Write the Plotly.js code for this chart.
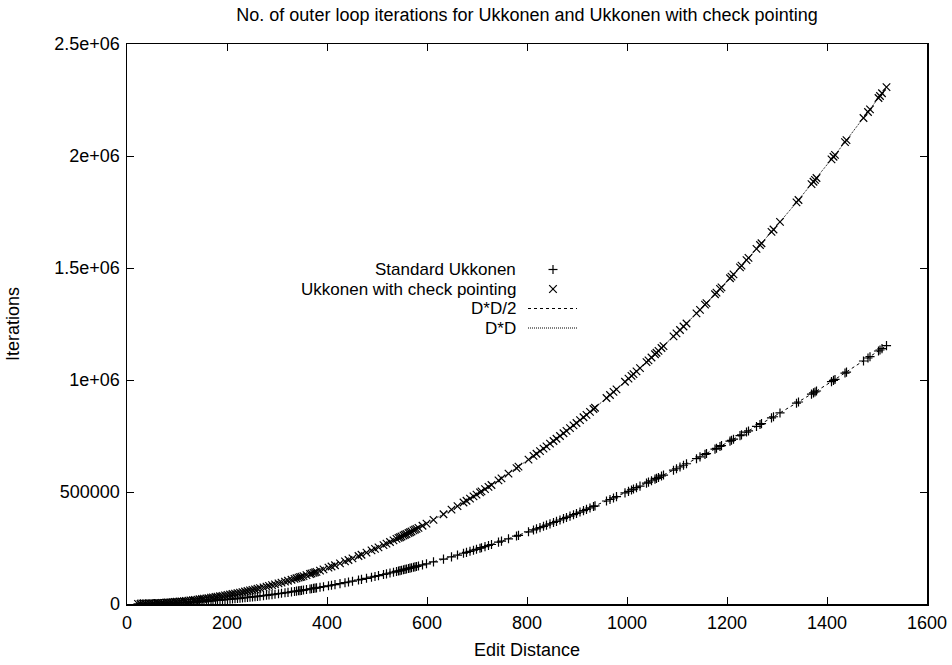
<!DOCTYPE html>
<html>
<head>
<meta charset="utf-8">
<script src="https://cdn.plot.ly/plotly-3.0.1.min.js"></script>
<style>html,body{margin:0;padding:0;background:#fff;}#chart{width:952px;height:665px;}</style>
</head>
<body>
<div id="chart"></div>
<script>
// Edit distances of the test cases
const editDistance = [
  22, 27, 32, 37, 42, 46, 51, 55, 60, 64,
  69, 73, 78, 82, 87, 91, 96, 100, 105, 109,
  114, 118, 123, 127, 132, 136, 141, 145, 150, 154,
  159, 163, 168, 172, 177, 181, 186, 191, 196, 201,
  206, 211, 216, 221, 226, 231, 236, 241, 246, 251,
  256, 261, 266, 273, 279, 284, 290, 296, 303, 309,
  316, 322, 329, 335, 339, 343, 346, 349, 353, 359,
  366, 369, 373, 376, 379, 386, 393, 403, 409, 416,
  426, 436, 443, 451, 463, 469, 479, 489, 496, 503,
  513, 519, 526, 533, 539, 543, 546, 549, 553, 556,
  559, 563, 566, 569, 573, 576, 579, 583, 591, 599,
  613, 633, 649, 661, 673, 679, 686, 693, 699, 706,
  709, 716, 723, 729, 743, 749, 763, 779, 783, 803,
  813, 819, 826, 833, 839, 846, 853, 859, 866, 873,
  879, 886, 893, 899, 906, 913, 919, 926, 933, 936,
  959, 966, 973, 979, 996, 1003, 1009, 1013, 1019, 1026,
  1039, 1043, 1049, 1056, 1059, 1063, 1069, 1073, 1093, 1099,
  1106, 1113, 1119, 1139, 1146, 1156, 1159, 1176, 1179, 1186,
  1189, 1206, 1209, 1213, 1226, 1229, 1239, 1243, 1259, 1266,
  1269, 1289, 1293, 1306, 1339, 1343, 1369, 1373, 1376, 1379,
  1409, 1413, 1416, 1436, 1439, 1473, 1482, 1486, 1503, 1506,
  1510, 1519
];

// Standard Ukkonen iterations (≈ D*D/2)
const standardIter = [
  242, 365, 512, 685, 882, 1058, 1301, 1513, 1800, 2048,
  2381, 2665, 3042, 3362, 3785, 4141, 4608, 5000, 5513, 5941,
  6498, 6962, 7565, 8065, 8712, 9248, 9941, 10513, 11250, 11858,
  12641, 13285, 14112, 14792, 15665, 16381, 17298, 18241, 19208, 20201,
  21218, 22261, 23328, 24421, 25538, 26681, 27848, 29041, 30258, 31501,
  32768, 34061, 35378, 37265, 38921, 40328, 42050, 43808, 45905, 47741,
  49928, 51842, 54121, 56113, 57461, 58825, 59858, 60901, 62305, 64441,
  66978, 68081, 69565, 70688, 71821, 74498, 77225, 81205, 83641, 86528,
  90738, 95048, 98125, 101701, 107185, 109981, 114721, 119561, 123008, 126505,
  131585, 134681, 138338, 142045, 145261, 147425, 149058, 150701, 152905, 154568,
  156241, 158485, 160178, 161881, 164165, 165888, 167621, 169945, 174641, 179401,
  187885, 200345, 210601, 218461, 226465, 230521, 235298, 240125, 244301, 249218,
  251341, 256328, 261365, 265721, 276025, 280501, 291085, 303421, 306545, 322405,
  330485, 335381, 341138, 346945, 351961, 357858, 363805, 368941, 374978, 381065,
  386321, 392498, 398725, 404101, 410418, 416785, 422281, 428738, 435245, 438048,
  459841, 466578, 473365, 479221, 496008, 503005, 509041, 513085, 519181, 526338,
  539761, 543925, 550201, 557568, 560741, 564985, 571381, 575665, 597325, 603901,
  611618, 619385, 626081, 648661, 656658, 668168, 671641, 691488, 695021, 703298,
  706861, 727218, 730841, 735685, 751538, 755221, 767561, 772525, 792541, 801378,
  805181, 830761, 835925, 852818, 896461, 901825, 937081, 942565, 946688, 950821,
  992641, 998285, 1002528, 1031048, 1035361, 1084865, 1098162, 1104098, 1129505, 1134018,
  1140050, 1153681
];

// Ukkonen with check pointing iterations (≈ D*D)
const checkpointIter = [
  484, 729, 1024, 1369, 1764, 2116, 2601, 3025, 3600, 4096,
  4761, 5329, 6084, 6724, 7569, 8281, 9216, 10000, 11025, 11881,
  12996, 13924, 15129, 16129, 17424, 18496, 19881, 21025, 22500, 23716,
  25281, 26569, 28224, 29584, 31329, 32761, 34596, 36481, 38416, 40401,
  42436, 44521, 46656, 48841, 51076, 53361, 55696, 58081, 60516, 63001,
  65536, 68121, 70756, 74529, 77841, 80656, 84100, 87616, 91809, 95481,
  99856, 103684, 108241, 112225, 114921, 117649, 119716, 121801, 124609, 128881,
  133956, 136161, 139129, 141376, 143641, 148996, 154449, 162409, 167281, 173056,
  181476, 190096, 196249, 203401, 214369, 219961, 229441, 239121, 246016, 253009,
  263169, 269361, 276676, 284089, 290521, 294849, 298116, 301401, 305809, 309136,
  312481, 316969, 320356, 323761, 328329, 331776, 335241, 339889, 349281, 358801,
  375769, 400689, 421201, 436921, 452929, 461041, 470596, 480249, 488601, 498436,
  502681, 512656, 522729, 531441, 552049, 561001, 582169, 606841, 613089, 644809,
  660969, 670761, 682276, 693889, 703921, 715716, 727609, 737881, 749956, 762129,
  772641, 784996, 797449, 808201, 820836, 833569, 844561, 857476, 870489, 876096,
  919681, 933156, 946729, 958441, 992016, 1006009, 1018081, 1026169, 1038361, 1052676,
  1079521, 1087849, 1100401, 1115136, 1121481, 1129969, 1142761, 1151329, 1194649, 1207801,
  1223236, 1238769, 1252161, 1297321, 1313316, 1336336, 1343281, 1382976, 1390041, 1406596,
  1413721, 1454436, 1461681, 1471369, 1503076, 1510441, 1535121, 1545049, 1585081, 1602756,
  1610361, 1661521, 1671849, 1705636, 1792921, 1803649, 1874161, 1885129, 1893376, 1901641,
  1985281, 1996569, 2005056, 2062096, 2070721, 2169729, 2196324, 2208196, 2259009, 2268036,
  2280100, 2307361
];

const seriesNames = ["Standard Ukkonen", "Ukkonen with check pointing", "D*D/2", "D*D"];
const xTickVals = [0, 200, 400, 600, 800, 1000, 1200, 1400, 1600];
const yTickVals = [0, 500000, 1000000, 1500000, 2000000, 2500000];
const yTickText = ["0", "500000", "1e+06", "1.5e+06", "2e+06", "2.5e+06"];

const FONT = "Liberation Sans, Arial, Helvetica, sans-serif";
const FS = 18;
const KEY_FS = 17;

const traces = [
  { type: "scatter", mode: "lines", name: seriesNames[2], x: editDistance, y: standardIter,
    line: { color: "#000", width: 1, dash: "3px,3px" }, hoverinfo: "skip" },
  { type: "scatter", mode: "lines", name: seriesNames[3], x: editDistance, y: checkpointIter,
    line: { color: "#000", width: 1, dash: "1px,1px" }, hoverinfo: "skip" },
  { type: "scatter", mode: "markers", name: seriesNames[0], x: editDistance, y: standardIter,
    marker: { symbol: "cross-thin", size: 6.5, color: "#000", line: { color: "#000", width: 1.2 } } },
  { type: "scatter", mode: "markers", name: seriesNames[1], x: editDistance, y: checkpointIter,
    marker: { symbol: "x-thin", size: 7.5, color: "#000", line: { color: "#000", width: 1.2 } } }
];

// custom gnuplot-style key (text right-aligned, sample on the right)
const L = 127, T = 44, W = 800, H = 560;
const px = v => (v - L) / W;
const py = v => (T + H - v) / H;
const rowsY = [269.5, 289, 308.5, 328];
const textRight = 517, sampleX = 553, lineX0 = 528, lineX1 = 577;

const annotations = seriesNames.map((n, i) => ({
  xref: "paper", yref: "paper", x: px(textRight), y: py(rowsY[i]),
  xanchor: "right", yanchor: "middle", showarrow: false, text: n, borderpad: 0,
  font: { family: FONT, size: KEY_FS, color: "#000" }
}));

const shapes = [
  { type: "line", xref: "paper", yref: "paper", x0: px(sampleX - 4.5), x1: px(sampleX + 4.5), y0: py(rowsY[0]), y1: py(rowsY[0]), line: { color: "#000", width: 1.2 } },
  { type: "line", xref: "paper", yref: "paper", x0: px(sampleX), x1: px(sampleX), y0: py(rowsY[0] - 4.5), y1: py(rowsY[0] + 4.5), line: { color: "#000", width: 1.2 } },
  { type: "line", xref: "paper", yref: "paper", x0: px(sampleX - 3.8), x1: px(sampleX + 3.8), y0: py(rowsY[1] - 3.8), y1: py(rowsY[1] + 3.8), line: { color: "#000", width: 1.2 } },
  { type: "line", xref: "paper", yref: "paper", x0: px(sampleX - 3.8), x1: px(sampleX + 3.8), y0: py(rowsY[1] + 3.8), y1: py(rowsY[1] - 3.8), line: { color: "#000", width: 1.2 } },
  { type: "line", xref: "paper", yref: "paper", x0: px(lineX0), x1: px(lineX1), y0: py(rowsY[2]), y1: py(rowsY[2]), line: { color: "#000", width: 1, dash: "3px,3px" } },
  { type: "line", xref: "paper", yref: "paper", x0: px(lineX0), x1: px(lineX1), y0: py(rowsY[3]), y1: py(rowsY[3]), line: { color: "#000", width: 1, dash: "1px,1px" } }
];

const axisCommon = {
  showgrid: false, zeroline: false, showline: true, linecolor: "#000", linewidth: 1.5,
  mirror: "ticks", ticks: "inside", ticklen: 7, tickwidth: 1, tickcolor: "#000",
  tickfont: { family: FONT, size: FS, color: "#000" }, fixedrange: true
};

const layout = {
  width: 952, height: 665,
  margin: { l: 127, r: 25, t: 44, b: 61, pad: 0 },
  paper_bgcolor: "#fff", plot_bgcolor: "#fff",
  showlegend: false,
  title: { text: "No. of outer loop iterations for Ukkonen and Ukkonen with check pointing",
    font: { family: FONT, size: FS, color: "#000" },
    xref: "paper", x: 0.5, xanchor: "center", y: 1 - 15 / 665, yref: "container", yanchor: "middle" },
  xaxis: Object.assign({}, axisCommon, {
    range: [0, 1600], tickvals: xTickVals, ticklabelstandoff: 2,
    title: { text: "Edit Distance", font: { family: FONT, size: FS, color: "#000" }, standoff: 11 }
  }),
  yaxis: Object.assign({}, axisCommon, {
    range: [0, 2500000], tickvals: yTickVals, ticktext: yTickText, ticklabelstandoff: 2,
    title: { text: "Iterations", font: { family: FONT, size: FS, color: "#000" }, standoff: 30 }
  }),
  annotations: annotations,
  shapes: shapes
};

Plotly.newPlot("chart", traces, layout, { staticPlot: true, displayModeBar: false });
</script>
</body>
</html>
